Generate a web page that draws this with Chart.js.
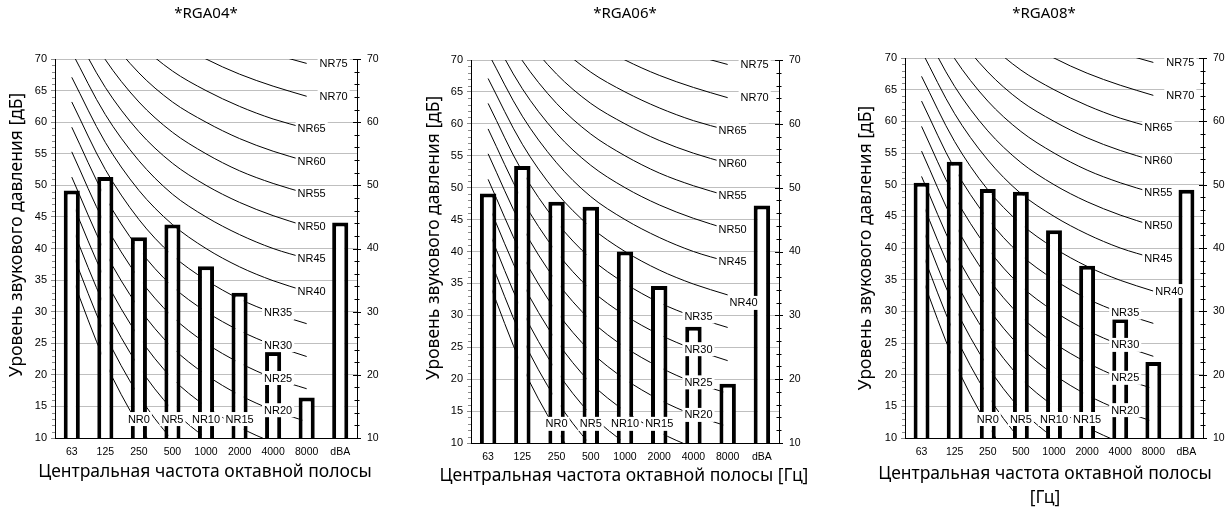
<!DOCTYPE html>
<html>
<head>
<meta charset="utf-8">
<script src="https://cdn.jsdelivr.net/npm/chart.js@4.4.0/dist/chart.umd.min.js"></script>
<style>
html, body { margin: 0; padding: 0; background: #fff; overflow: hidden; }
.panel { position: absolute; top: 0; }
</style>
</head>
<body>
<div class="panel" style="left:0px"><canvas id="c1" width="412" height="511"></canvas></div>
<div class="panel" style="left:415px"><canvas id="c2" width="420" height="511"></canvas></div>
<div class="panel" style="left:846px"><canvas id="c3" width="396" height="511"></canvas></div>
<script>
// octave band centres + overall dBA
const categories = ['63', '125', '250', '500', '1000', '2000', '4000', '8000', 'dBA'];

// measured sound pressure levels, dB
const rga04 = [49.2, 51.3, 41.8, 43.8, 37.2, 33.0, 23.6, 16.4, 44.1];
const rga06 = [49.1, 53.4, 47.8, 47.0, 40.0, 34.6, 28.2, 19.3, 47.2];
const rga08 = [50.3, 53.6, 49.3, 48.9, 42.8, 37.2, 28.8, 22.0, 49.2];

const yMin = 10;
const yMax = 70;

// NR curves, 63..8000 Hz
const nr0  = [35.5, 22.0, 12.0,  4.8,  0, -3.5, -6.1, -8.0];
const nr5  = [39.5, 26.4, 16.7,  9.7,  5,  1.6, -1.0, -2.9];
const nr10 = [43.4, 30.7, 21.3, 14.5, 10,  6.7,  4.2,  2.3];
const nr15 = [47.4, 35.1, 26.0, 19.4, 15, 11.7,  9.3,  7.5];
const nr20 = [51.3, 39.4, 30.6, 24.3, 20, 16.8, 14.4, 12.6];
const nr25 = [55.3, 43.8, 35.3, 29.2, 25, 21.9, 19.5, 17.8];
const nr30 = [59.2, 48.1, 39.9, 34.0, 30, 27.0, 24.7, 22.9];
const nr35 = [63.2, 52.5, 44.6, 38.9, 35, 32.0, 29.8, 28.1];
const nr40 = [67.1, 56.8, 49.2, 43.8, 40, 37.1, 34.9, 33.2];
const nr45 = [71.1, 61.2, 53.9, 48.6, 45, 42.2, 40.0, 38.4];
const nr50 = [75.0, 65.5, 58.5, 53.5, 50, 47.3, 45.2, 43.5];
const nr55 = [79.0, 69.9, 63.2, 58.4, 55, 52.3, 50.3, 48.7];
const nr60 = [82.9, 74.2, 67.8, 63.2, 60, 57.4, 55.4, 53.8];
const nr65 = [86.9, 78.6, 72.5, 68.1, 65, 62.5, 60.5, 59.0];
const nr70 = [90.8, 82.9, 77.1, 73.0, 70, 67.6, 65.7, 64.1];
const nr75 = [94.8, 87.3, 81.8, 77.9, 75, 72.6, 70.8, 69.3];

const nrNames = ['NR0', 'NR5', 'NR10', 'NR15', 'NR20', 'NR25', 'NR30', 'NR35',
                 'NR40', 'NR45', 'NR50', 'NR55', 'NR60', 'NR65', 'NR70', 'NR75'];
const nrCurves = [nr0, nr5, nr10, nr15, nr20, nr25, nr30, nr35,
                  nr40, nr45, nr50, nr55, nr60, nr65, nr70, nr75];

// where each NR label sits (category index), and a pixel nudge
const nrLabelCat = [2, 3, 4, 5, 6, 6, 6, 6, 7, 7, 7, 7, 7, 7, 7, 7];
const nrLabelDx  = [0, 0, 0, 0, 5, 5, 5, 5, 5, 5, 5, 5, 5, 5, 27, 27];
const LABEL_FLOOR = 13;

const tickFont = '"Liberation Sans", Arial, sans-serif';
const textFont = '"Noto Sans", sans-serif';

const nrLabels = {
    id: 'nrLabels',
    afterDatasetsDraw(chart, args, opts) {
        const ctx = chart.ctx;
        const xs = chart.scales.x, ys = chart.scales.y;
        ctx.save();
        ctx.font = '11px ' + tickFont;
        ctx.textAlign = 'center';
        ctx.textBaseline = 'middle';
        chart.data.datasets.forEach(ds => {
            if (ds.type !== 'line') return;
            const k = ds.nrIndex;
            const cat = nrLabelCat[k];
            const extra = (opts.shift && opts.shift[ds.label]) || [0, 0];
            const v = Math.max(ds.data[cat], LABEL_FLOOR);
            const px = xs.getPixelForValue(cat) + nrLabelDx[k] + extra[0];
            const py = ys.getPixelForValue(v) + extra[1];
            const w = ctx.measureText(ds.label).width + 4;
            ctx.fillStyle = '#fff';
            ctx.fillRect(px - w / 2, py - 7, w, 14);
            ctx.fillStyle = '#000';
            ctx.fillText(ds.label, px, py + 0.5);
        });
        ctx.restore();
    }
};

const minorTicks = {
    id: 'minorTicks',
    afterDraw(chart) {
        const ctx = chart.ctx;
        const yl = chart.scales.y, yr = chart.scales.y2;
        ctx.save();
        ctx.lineWidth = 1;
        ctx.strokeStyle = '#8c8c8c';
        ctx.beginPath();
        for (let v = yMin; v <= yMax; v++) {
            if (v % 5 === 0) continue;
            const py = Math.round(yl.getPixelForValue(v)) + 0.5;
            ctx.moveTo(yl.right - 3, py);
            ctx.lineTo(yl.right, py);
        }
        ctx.stroke();
        ctx.strokeStyle = '#000';
        ctx.beginPath();
        for (let v = yMin; v <= yMax; v += 2) {
            const len = v % 10 === 0 ? 4 : 2.5;
            const py = Math.round(yr.getPixelForValue(v)) + 0.5;
            ctx.moveTo(yr.left - len, py);
            ctx.lineTo(yr.left + len, py);
        }
        ctx.stroke();
        ctx.restore();
    }
};

// x axis title drawn without chart.js' maxWidth squeeze
const xTitle = {
    id: 'xTitle',
    afterDraw(chart, args, opts) {
        const ctx = chart.ctx, a = chart.chartArea;
        ctx.save();
        ctx.font = opts.size + 'px ' + textFont;
        ctx.fillStyle = '#000';
        ctx.textAlign = 'center';
        ctx.textBaseline = 'middle';
        opts.lines.forEach((t, i) => {
            ctx.fillText(t, (a.left + a.right) / 2 + opts.dx, opts.y[i]);
        });
        ctx.restore();
    }
};

function makeChart(id, title, values, p) {
    const datasets = [{
        type: 'bar',
        label: title,
        data: values,
        backgroundColor: '#fff',
        borderColor: '#000',
        borderWidth: 4,
        borderSkipped: false,
        barPercentage: 0.48,
        categoryPercentage: 1,
        order: 0
    }];
    nrCurves.forEach((c, k) => {
        datasets.push({
            type: 'line',
            label: nrNames[k],
            nrIndex: k,
            data: c,
            borderColor: '#000',
            borderWidth: 1,
            pointRadius: 0,
            tension: 0.33,
            clip: 0,
            order: 1
        });
    });

    return new Chart(document.getElementById(id), {
        type: 'bar',
        data: { labels: categories, datasets: datasets },
        options: {
            responsive: false,
            animation: false,
            devicePixelRatio: 1,
            layout: { padding: 0 },
            elements: { line: { capBezierPoints: false } },
            plugins: {
                legend: { display: false },
                tooltip: { enabled: false },
                title: {
                    display: true,
                    text: title,
                    color: '#000',
                    font: { family: textFont, size: 15, weight: 'normal' },
                    padding: { top: 5, bottom: p.titleBottom }
                },
                nrLabels: { shift: p.shift },
                xTitle: { lines: p.xTitle, y: p.xTitleY, dx: p.xTitleDx, size: 17.5 }
            },
            scales: {
                x: {
                    grid: { display: false, drawTicks: false },
                    border: { display: true, color: '#000', width: 1 },
                    ticks: { color: '#000', font: { family: tickFont, size: 10.5 }, padding: 8, maxRotation: 0, autoSkip: false },
                    afterFit: s => { s.height = p.xH; }
                },
                y: {
                    position: 'left',
                    min: yMin,
                    max: yMax,
                    grid: { color: '#bfbfbf', tickLength: 4, tickColor: '#8c8c8c' },
                    border: { display: true, color: '#000', width: 1 },
                    ticks: { stepSize: 5, color: '#000', font: { family: tickFont, size: 11 }, padding: 4 },
                    title: {
                        display: true,
                        text: p.yTitle,
                        color: '#000',
                        font: { family: textFont, size: 17.5 },
                        padding: { top: p.yPad, bottom: 0 }
                    },
                    afterFit: s => { s.width = p.leftW; }
                },
                y2: {
                    position: 'right',
                    min: yMin,
                    max: yMax,
                    grid: { display: false, drawTicks: false },
                    border: { display: true, color: '#000', width: 1 },
                    ticks: { stepSize: 10, color: '#000', font: { family: tickFont, size: 10.5 }, padding: 10 },
                    afterFit: s => { s.width = p.rightW; }
                }
            }
        },
        plugins: [nrLabels, minorTicks, xTitle]
    });
}

const yTitleShifted = '      Уровень звукового давления [дБ]';
const yTitlePlain = 'Уровень звукового давления [дБ]';

makeChart('c1', '*RGA04*', rga04, {
    titleBottom: 36, leftW: 55, rightW: 55, xH: 73, yPad: 6.5,
    xTitle: ['Центральная частота октавной полосы'], xTitleY: [472], xTitleDx: -1,
    yTitle: yTitleShifted, shift: {}
});
makeChart('c2', '*RGA06*', rga06, {
    titleBottom: 37, leftW: 56, rightW: 56, xH: 68, yPad: 8.5,
    xTitle: ['Центральная частота октавной полосы [Гц]'], xTitleY: [476.5], xTitleDx: -1,
    yTitle: yTitleShifted, shift: { NR40: [11, 8] }
});
makeChart('c3', '*RGA08*', rga08, {
    titleBottom: 35, leftW: 59, rightW: 39, xH: 73, yPad: 9.5,
    xTitle: ['Центральная частота октавной полосы', '[Гц]'], xTitleY: [474, 498], xTitleDx: -9,
    yTitle: yTitlePlain, shift: { NR40: [11, 0] }
});
</script>
</body>
</html>
